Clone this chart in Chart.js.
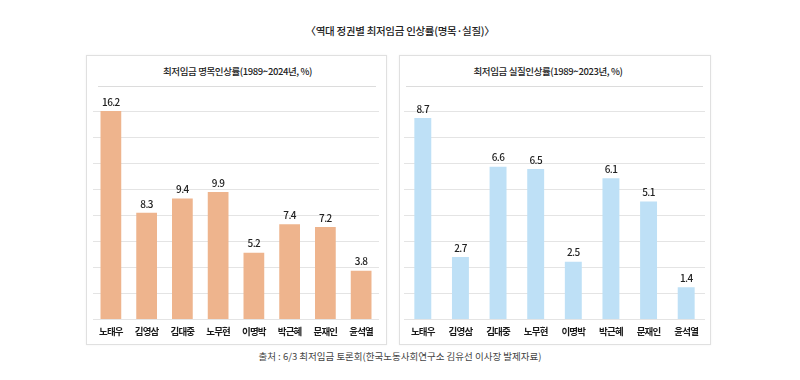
<!DOCTYPE html>
<html><head><meta charset="utf-8">
<script src="https://cdn.jsdelivr.net/npm/chart.js@4"></script>
<style>
html,body{margin:0;padding:0;background:#fff;width:800px;height:380px;overflow:hidden;font-family:"Noto Sans CJK KR",sans-serif;}
.abs{position:absolute;}
#title{left:0;top:23px;width:800px;text-align:center;font-size:10.5px;letter-spacing:-0.3px;font-weight:500;color:#222;}
.panel{position:absolute;border:1px solid #e0e0e0;box-shadow:0 0 2px rgba(0,0,0,0.06);box-sizing:border-box;background:#fff;}
.ptitle{position:absolute;top:8px;font-size:9.5px;letter-spacing:-0.4px;font-weight:500;color:#222;text-align:center;}
.hline{position:absolute;height:1px;background:#dcdcdc;}
#src{left:0;top:349px;width:800px;text-align:center;font-size:9.5px;color:#444;}
canvas{position:absolute;}
</style></head>
<body>
<div id="title" class="abs">〈역대 정권별 최저임금 인상률(명목·실질)〉</div>
<div class="panel" style="left:86px;top:55px;width:301px;height:290px;">
  <div class="ptitle" style="left:0;width:301px;">최저임금 명목인상률(1989~2024년, %)</div>
  <div class="hline" style="left:11px;top:30px;width:278px;"></div>
</div>
<div class="panel" style="left:399px;top:55px;width:312px;height:290px;">
  <div class="ptitle" style="left:0;width:296px;">최저임금 실질인상률(1989~2023년, %)</div>
  <div class="hline" style="left:6px;top:30px;width:297px;"></div>
</div>
<canvas id="c1" style="left:86px;top:88px;" width="301" height="257"></canvas>
<canvas id="c2" style="left:399px;top:88px;" width="312" height="257"></canvas>
<div id="src" class="abs">출처 : 6/3 최저임금 토론회(한국노동사회연구소 김유선 이사장 발제자료)</div>
<script>
const categories = ["노태우","김영삼","김대중","노무현","이명박","박근혜","문재인","윤석열"];
const nominalValues = [16.2, 8.3, 9.4, 9.9, 5.2, 7.4, 7.2, 3.8];
const realValues = [8.7, 2.7, 6.6, 6.5, 2.5, 6.1, 5.1, 1.4];
const nominalLabels = ["16.2","8.3","9.4","9.9","5.2","7.4","7.2","3.8"];
const realLabels = ["8.7","2.7","6.6","6.5","2.5","6.1","5.1","1.4"];

const spacingPlugin = {
  id: 'spacing',
  beforeDraw(chart) { chart.ctx.letterSpacing = '-0.8px'; }
};

const valueLabelPlugin = {
  id: 'valueLabels',
  afterDatasetsDraw(chart, args, opts) {
    const ctx = chart.ctx;
    const meta = chart.getDatasetMeta(0);
    ctx.save();
    ctx.letterSpacing = '-0.6px';
    ctx.font = "500 10px 'Noto Sans CJK KR', sans-serif";
    ctx.fillStyle = '#222';
    ctx.textAlign = 'center';
    ctx.textBaseline = 'bottom';
    meta.data.forEach((bar, i) => {
      ctx.fillText(opts.labels[i], bar.x, bar.y - 4);
    });
    ctx.restore();
  }
};

function makeChart(id, values, labels, color, maxV, pad, barPct) {
  return new Chart(document.getElementById(id), {
    type: 'bar',
    data: { labels: categories, datasets: [{ data: values, backgroundColor: color, borderWidth: 0, barPercentage: barPct, categoryPercentage: 1 }] },
    options: {
      responsive: false, animation: false,
      layout: { padding: pad },
      plugins: { legend: { display: false }, tooltip: { enabled: false }, valueLabels: { labels: labels } },
      scales: {
        x: {
          grid: { display: false, drawTicks: false },
          border: { display: false },
          ticks: { color: '#1a1a1a', font: { family: "'Noto Sans CJK KR', sans-serif", size: 9.5, weight: 'bold' }, padding: 6, maxRotation: 0, autoSkip: false }
        },
        y: {
          min: 0, max: maxV,
          grid: { color: '#e4e4e4', drawTicks: false, lineWidth: 1 },
          border: { display: false },
          ticks: { display: false, count: 9 }
        }
      }
    },
    plugins: [spacingPlugin, valueLabelPlugin]
  });
}
makeChart('c1', nominalValues, nominalLabels, '#EEB48D', 16.2, { left: 7, right: 8, top: 23, bottom: 2 }, 0.58);
makeChart('c2', realValues, realLabels, '#BEE0F6', 9, { left: 5, right: 6, top: 23, bottom: 2 }, 0.45);
</script>
</body></html>
